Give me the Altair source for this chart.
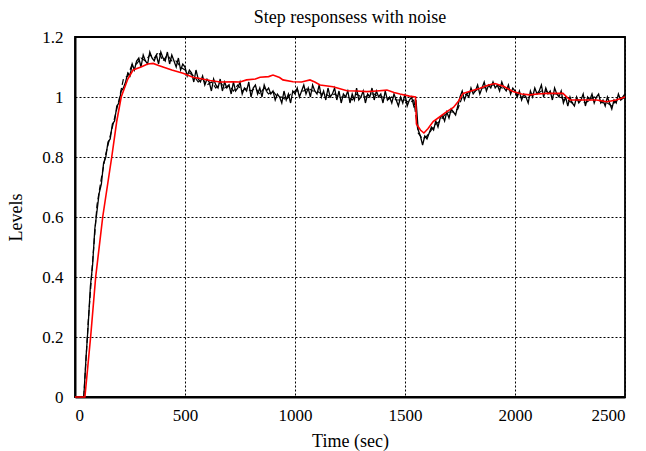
import altair as alt
import pandas as pd

# ---- data ----
# solid noisy black response, sampled every 10 s from t = 0
black_step = 10
black_solid = [
    0.00, 0.00, 0.00, 0.00, 0.00, 0.13, 0.24, 0.37, 0.44, 0.56,
    0.62, 0.68, 0.71, 0.78, 0.80, 0.85, 0.86, 0.91, 0.92, 0.97,
    0.98, 1.02, 1.03, 1.05, 1.08, 1.07, 1.11, 1.09, 1.12, 1.13,
    1.10, 1.14, 1.12, 1.11, 1.15, 1.13, 1.12, 1.14, 1.11, 1.15,
    1.13, 1.12, 1.15, 1.11, 1.14, 1.12, 1.10, 1.13, 1.09, 1.11,
    1.10, 1.07, 1.09, 1.08, 1.05, 1.09, 1.06, 1.05, 1.07, 1.04,
    1.06, 1.05, 1.02, 1.06, 1.04, 1.03, 1.06, 1.02, 1.05, 1.03,
    1.04, 1.01, 1.05, 1.02, 1.03, 1.05, 1.01, 1.03, 1.02, 1.05,
    1.00, 1.03, 1.04, 1.01, 1.03, 1.00, 1.04, 1.02, 1.03, 1.01,
    1.02, 0.99, 1.01, 1.00, 0.98, 1.02, 0.99, 1.01, 0.98, 1.02,
    1.01, 1.03, 1.00, 1.02, 1.04, 1.01, 1.03, 1.00, 1.04, 1.02,
    1.01, 1.04, 1.00, 1.02, 0.99, 1.03, 1.00, 1.01, 1.03, 0.99,
    1.02, 0.98, 1.01, 1.00, 1.02, 0.98, 1.01, 0.99, 1.03, 0.99,
    1.00, 1.02, 0.98, 1.01, 1.00, 1.03, 0.99, 1.02, 1.00, 1.01,
    0.98, 1.02, 0.99, 1.00, 0.98, 1.01, 0.99, 0.97, 1.00, 0.98,
    1.01, 0.97, 0.99, 1.00, 0.97, 0.99, 0.89, 0.87, 0.84, 0.87,
    0.86, 0.88, 0.90, 0.89, 0.92, 0.90, 0.93, 0.94, 0.92, 0.95,
    0.93, 0.96, 0.95, 0.94, 0.97, 1.00, 1.02, 0.99, 1.01, 1.00,
    1.03, 1.01, 1.02, 1.04, 1.01, 1.03, 1.05, 1.02, 1.04, 1.03,
    1.05, 1.03, 1.04, 1.02, 1.05, 1.03, 1.02, 1.04, 1.01, 1.03,
    1.02, 1.00, 1.02, 0.99, 1.01, 1.00, 0.98, 1.02, 1.00, 1.03,
    1.01, 1.02, 1.04, 1.00, 1.03, 1.01, 1.02, 0.99, 1.03, 1.01,
    1.00, 1.02, 0.98, 1.00, 0.97, 1.00, 0.98, 0.97, 1.00, 0.98,
    0.99, 1.01, 0.97, 1.00, 0.99, 1.01, 0.98, 1.00, 1.01, 0.98,
    0.99, 0.97, 1.00, 0.98, 0.96, 0.99, 0.98, 1.01, 0.99, 1.00,
    1.01,
]

# dashed noisy black response, sampled every 20 s from t = 0
dashed_step = 20
black_dashed = [
    0.00, 0.00, 0.00, 0.25, 0.45, 0.64, 0.73, 0.81, 0.87, 0.93,
    0.99, 1.06, 1.07, 1.11, 1.11, 1.13, 1.12, 1.14, 1.13, 1.15,
    1.12, 1.14, 1.12, 1.12, 1.10, 1.09, 1.08, 1.07, 1.05, 1.06,
    1.04, 1.05, 1.03, 1.05, 1.03, 1.04, 1.02, 1.04, 1.02, 1.03,
    1.02, 1.03, 1.01, 1.03, 1.01, 1.02, 1.00, 1.00, 0.99, 1.01,
    1.02, 1.02, 1.02, 1.03, 1.02, 1.02, 1.01, 1.01, 1.00, 1.01,
    1.00, 1.00, 1.00, 0.99, 1.01, 1.00, 1.00, 1.01, 1.01, 1.00,
    1.00, 0.99, 1.00, 0.99, 0.99, 0.99, 0.98, 0.99, 0.88, 0.86,
    0.87, 0.89, 0.91, 0.92, 0.94, 0.95, 0.95, 0.96, 1.00, 1.01,
    1.02, 1.02, 1.03, 1.03, 1.04, 1.04, 1.04, 1.03, 1.03, 1.02,
    1.02, 1.00, 1.00, 1.00, 1.01, 1.01, 1.02, 1.02, 1.01, 1.01,
    1.01, 0.99, 0.99, 0.98, 0.99, 0.99, 0.98, 0.99, 1.00, 0.99,
    0.98, 0.98, 0.97, 0.99, 0.99, 1.00,
]

# red (smoother) response
red_t = [0, 45, 71, 94, 126, 167, 190, 210, 240, 264, 300, 330, 355, 380, 400, 440,
         491, 536, 580, 614, 660, 718, 750, 780, 820, 841, 880, 900, 930, 945,
         991, 1030, 1068, 1090, 1114, 1173, 1236, 1280, 1327, 1370, 1418, 1450,
         1477, 1520, 1548, 1552, 1570, 1586, 1605, 1628, 1660, 1690, 1720, 1741,
         1764, 1800, 1841, 1880, 1909, 1950, 1991, 2030, 2068, 2100, 2145, 2218,
         2250, 2290, 2327, 2370, 2418, 2460, 2500]
red_v = [0.0, 0.0, 0.2, 0.4, 0.6, 0.80, 0.92, 1.00, 1.06, 1.09, 1.10, 1.11, 1.112, 1.105,
         1.10, 1.09, 1.079, 1.066, 1.06, 1.055, 1.05, 1.051, 1.05, 1.057, 1.06,
         1.066, 1.068, 1.073, 1.065, 1.057, 1.051, 1.05, 1.057, 1.05, 1.04, 1.034,
         1.021, 1.02, 1.018, 1.02, 1.023, 1.015, 1.01, 1.003, 1.0, 0.91, 0.89,
         0.88, 0.895, 0.918, 0.935, 0.951, 0.965, 0.984, 1.012, 1.02, 1.029, 1.04,
         1.045, 1.035, 1.018, 1.01, 1.007, 1.01, 1.012, 1.012, 0.99, 0.99, 0.99,
         0.99, 0.984, 0.99, 1.0]

x_ticks = [0, 500, 1000, 1500, 2000, 2500]
y_ticks = [0, 0.2, 0.4, 0.6, 0.8, 1.0, 1.2]

df_solid = pd.DataFrame({"t": [i * black_step for i in range(len(black_solid))],
                         "v": black_solid})
df_dashed = pd.DataFrame({"t": [i * dashed_step for i in range(len(black_dashed))],
                          "v": black_dashed})
df_red = pd.DataFrame({"t": red_t, "v": red_v})

FONT = "Liberation Serif"

x_enc = alt.X("t:Q", scale=alt.Scale(domain=[0, 2500], nice=False),
              axis=alt.Axis(values=x_ticks, title="Time (sec)", format="d",
                            labelPadding=10, titlePadding=9))
y_enc = alt.Y("v:Q", scale=alt.Scale(domain=[0, 1.2], nice=False),
              axis=alt.Axis(values=y_ticks, title="Levels", format="~g",
                            labelPadding=12, titlePadding=16))

solid = alt.Chart(df_solid).mark_line(color="#000000", strokeWidth=1.3).encode(
    x=x_enc, y=y_enc)
dashed = alt.Chart(df_dashed).mark_line(color="#000000", strokeWidth=1.2,
                                         strokeDash=[6, 3]).encode(x="t:Q", y="v:Q")
red = alt.Chart(df_red).mark_line(color="#ff0000", strokeWidth=1.6).encode(
    x="t:Q", y="v:Q")

chart = alt.layer(solid, dashed, red).properties(
    width=550, height=360,
    title=alt.TitleParams("Step responsess with noise", font=FONT, fontSize=18,
                          fontWeight="normal", color="#000", offset=1),
    autosize=alt.AutoSizeParams(type="none"),
    padding={"left": 75, "top": 37, "right": 21, "bottom": 54},
).configure_view(
    stroke="#000", strokeWidth=1.8
).configure_axis(
    labelFont=FONT, labelFontSize=17, labelColor="#000",
    titleFont=FONT, titleFontSize=18, titleFontWeight="normal", titleColor="#000",
    grid=True, gridColor="#000", gridDash=[2, 2], gridWidth=1, gridOpacity=1,
    tickSize=0, ticks=False, domainColor="#000", domainWidth=2,
)

chart.save("out.html", embed_options={"renderer": "svg", "actions": False})
